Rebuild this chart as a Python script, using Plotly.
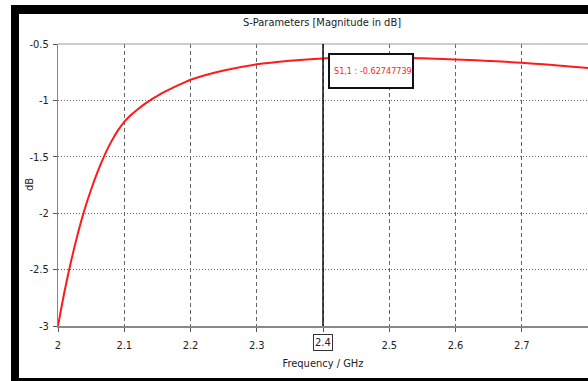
import plotly.graph_objects as go

freq = [2.00, 2.01, 2.02, 2.03, 2.04, 2.05, 2.06, 2.07, 2.08, 2.09, 2.10,
        2.11, 2.12, 2.13, 2.14, 2.15, 2.16, 2.17, 2.18, 2.19, 2.20,
        2.25, 2.30, 2.35, 2.40, 2.45, 2.50, 2.55, 2.60, 2.65, 2.70, 2.75, 2.80]
s11_db = [-3.0, -2.69, -2.42, -2.18, -1.97, -1.79, -1.63, -1.49, -1.37, -1.27, -1.19,
          -1.13, -1.08, -1.035, -0.995, -0.96, -0.927, -0.897, -0.869, -0.842, -0.817,
          -0.735, -0.68, -0.648, -0.6275, -0.62, -0.62, -0.627, -0.637, -0.65, -0.666,
          -0.688, -0.713]
x_ticks = [2.0, 2.1, 2.2, 2.3, 2.4, 2.5, 2.6, 2.7, 2.8]
x_labels = ["2", "2.1", "2.2", "2.3", "", "2.5", "2.6", "2.7", "2.8"]
y_ticks = [-3, -2.5, -2, -1.5, -1, -0.5]
y_labels = ["-3", "-2.5", "-2", "-1.5", "-1", "-0.5"]
marker_freq = 2.4
marker_label = "2.4"
marker_text = "S1,1 : -0.62747739"

W, H = 588, 381
L, R, T, B = 58, 0, 44, 55
pw, ph = W - L - R, H - T - B
XPX = pw / 0.8  # pixels per GHz


def px(x):
    return (x - L) / pw


def py(y):
    return (H - B - y) / ph


FONT = "Liberation Sans Narrow, Arial Narrow, DejaVu Sans Condensed, sans-serif"

fig = go.Figure()
fig.add_trace(go.Scatter(x=freq, y=s11_db, mode="lines",
                         line=dict(color="#ff1a1a", width=2, shape="spline", smoothing=1.0),
                         showlegend=False, hoverinfo="skip"))

fig.update_layout(
    width=W, height=H,
    margin=dict(l=L, r=R, t=T, b=B),
    paper_bgcolor="white", plot_bgcolor="white",
    font=dict(family=FONT, size=11, color="#222"),
    title=dict(text="S-Parameters [Magnitude in dB]", x=322 / W, xanchor="center",
               y=1 - 22 / H, yanchor="middle", font=dict(size=11, color="#222")),
    xaxis=dict(range=[2.0, 2.8], tickvals=x_ticks, ticktext=x_labels,
               showgrid=True, gridcolor="#666", griddash="4px,3px", gridwidth=1,
               showline=True, linecolor="#888", linewidth=2,
               ticks="outside", ticklen=4, tickcolor="#555", zeroline=False,
               ticklabelstandoff=4,
               title=dict(text="Frequency / GHz", standoff=8, font=dict(size=11))),
    yaxis=dict(range=[-3, -0.5], tickvals=y_ticks, ticktext=y_labels,
               showgrid=True, gridcolor="#666", griddash="1px,2px", gridwidth=1,
               showline=True, linecolor="#888", linewidth=1,
               ticks="outside", ticklen=4, tickcolor="#555", zeroline=False,
               ticklabelstandoff=2),
)

shapes = [
    # top plot border
    dict(type="line", xref="paper", yref="paper", x0=0, x1=1, y0=1, y1=1,
         line=dict(color="#999", width=1)),
    # marker vertical line
    dict(type="line", xref="x", yref="paper", x0=marker_freq, x1=marker_freq, y0=0, y1=1,
         line=dict(color="#111", width=1.5)),
    # marker value box
    dict(type="rect", xref="x", yref="paper",
         x0=marker_freq + 6 / XPX, x1=marker_freq + 90 / XPX, y0=py(88), y1=py(54),
         fillcolor="white", line=dict(color="#111", width=2)),
    # black frame bands
    dict(type="rect", xref="paper", yref="paper", x0=px(11), x1=px(19), y0=py(381), y1=py(5),
         fillcolor="black", line=dict(width=0), layer="above"),
    dict(type="rect", xref="paper", yref="paper", x0=px(11), x1=px(600), y0=py(14), y1=py(5),
         fillcolor="black", line=dict(width=0), layer="above"),
    dict(type="rect", xref="paper", yref="paper", x0=px(11), x1=px(600), y0=py(381), y1=py(378),
         fillcolor="black", line=dict(width=0), layer="above"),
]
fig.update_layout(shapes=shapes)

fig.add_annotation(x=px(29), y=0.5, xref="paper", yref="paper", text="dB", textangle=-90,
                   xanchor="center", yanchor="middle", showarrow=False,
                   font=dict(size=11, color="#222"))
fig.add_annotation(x=marker_freq, y=py(342), xref="x", yref="paper", text=marker_label,
                   xanchor="center", yanchor="middle", showarrow=False,
                   font=dict(size=11, color="#222"), bordercolor="#333", borderwidth=1,
                   borderpad=1)
fig.add_annotation(x=marker_freq + 9 / XPX, y=py(71), xref="x", yref="paper",
                   xanchor="left", yanchor="middle", text=marker_text, showarrow=False,
                   font=dict(size=9, color="#ff1a1a"))

fig.write_html("out.html")
